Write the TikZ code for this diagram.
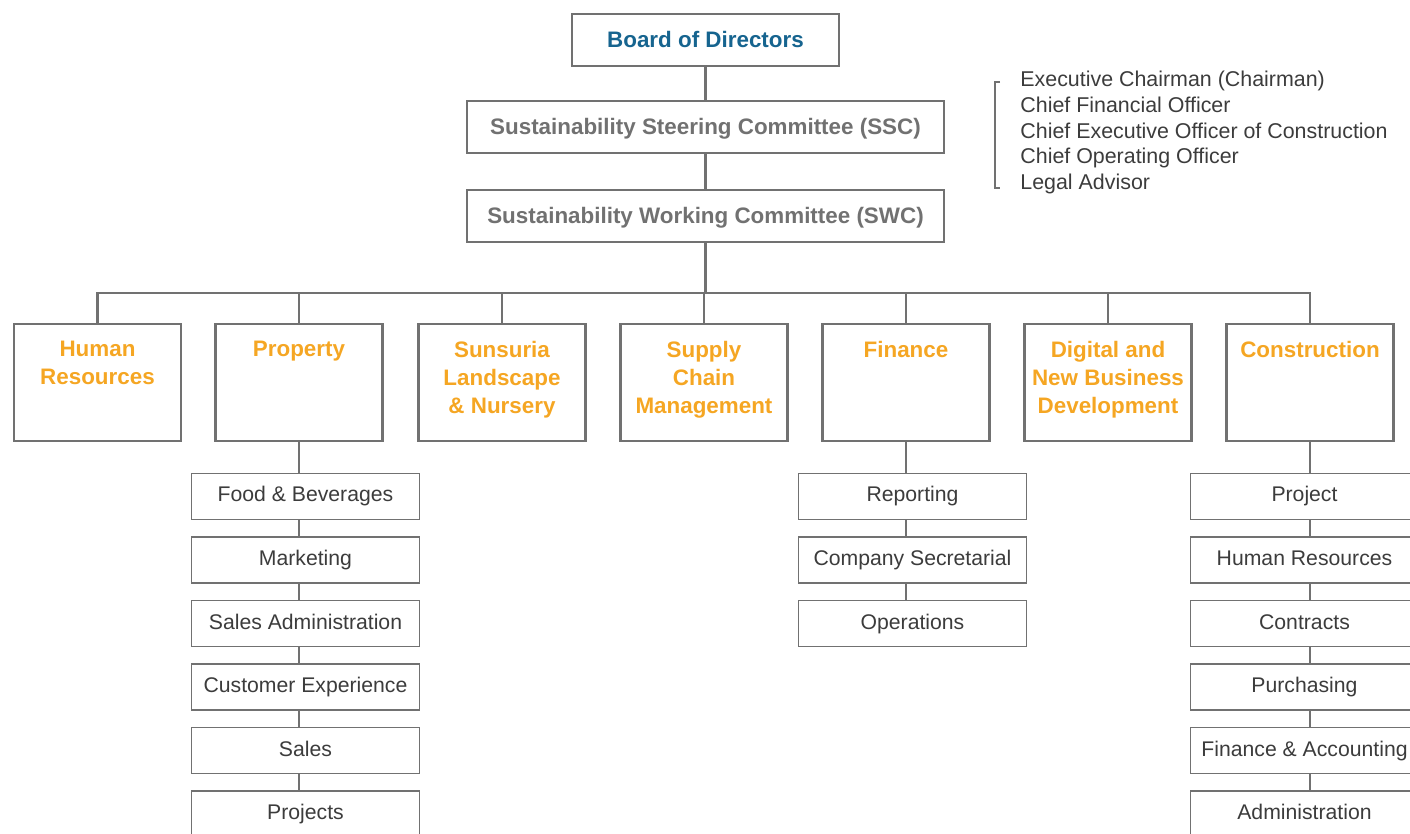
\documentclass[tikz,border=0pt]{standalone}
\usepackage{fontspec}
\setmainfont{Liberation Sans}
\usetikzlibrary{positioning}

\definecolor{linegray}{HTML}{717171}
\definecolor{boardblue}{HTML}{16648F}
\definecolor{headgray}{HTML}{717171}
\definecolor{deptorange}{HTML}{F5A623}
\definecolor{subtext}{HTML}{3C3C3C}

\begin{document}
\begin{tikzpicture}[x=0.5pt,y=-0.5pt,
    topbox/.style={draw=linegray,line width=1.3pt,minimum width=133.4pt,minimum height=25.9pt,
        inner sep=0pt,text height=8pt,text depth=0pt,
        font=\fontsize{11.2}{14}\selectfont\bfseries,text=headgray},
    deptbox/.style={draw=linegray,line width=1.3pt,minimum width=83.4pt,minimum height=58.5pt,inner sep=0pt},
    depttext/.style={anchor=north,yshift=-9pt,inner sep=0pt,align=center,
        font=\fontsize{11.2}{14}\selectfont\bfseries,text=deptorange},
    subbox/.style={draw=linegray,line width=0.7pt,fill=white,minimum width=113.9pt,minimum height=22.9pt,
        inner sep=0pt,text height=7.7pt,text depth=2.2pt,
        font=\fontsize{10.6}{12}\selectfont,text=subtext},
    conn/.style={draw=linegray,line width=1.1pt},
    subconn/.style={draw=linegray,line width=1pt},
    bracket/.style={draw=linegray,line width=0.9pt}]

    \useasboundingbox (0,0) rectangle (1410,834);
    \clip (0,0) rectangle (1410,834);

    % Top of the chart
    \node [topbox,text=boardblue] (bod) at (705.5,40) {Board of Directors};
    \node [topbox,minimum width=238.4pt] (ssc) at (705.5,127) {Sustainability Steering Committee (SSC)};
    \node [topbox,minimum width=238.4pt] (swc) at (705.5,216) {Sustainability Working Committee (SWC)};
    \draw [conn] (bod) -- (ssc);
    \draw [conn] (ssc) -- (swc);

    % SSC members
    \node [anchor=north west,inner sep=0pt,align=left,text=subtext,
        font=\fontsize{10.7}{12.8}\selectfont] (ssclist) at (1020,71)
        {Executive Chairman (Chairman)\\Chief Financial Officer\\Chief Executive Officer of Construction\\Chief Operating Officer\\Legal Advisor};
    \draw [bracket] ([xshift=-10pt,yshift=-5.5pt]ssclist.north west)
        -| ([xshift=-12.5pt,yshift=3.2pt]ssclist.south west) -- ++(2.5pt,0);

    % Departments
    \coordinate (bus) at (705.5,293);
    \draw [conn] (swc) -- (bus);
    \foreach \nm/\x/\txt in {hr/97.5/{Human\\Resources},
                            prop/299/{Property},
                            sun/502/{Sunsuria\\Landscape\\\& Nursery},
                            scm/704/{Supply\\Chain\\Management},
                            fin/906/{Finance},
                            dig/1108/{Digital and\\New Business\\Development},
                            con/1310/{Construction}} {
        \node [deptbox] (\nm) at (\x,382.5) {};
        \node [depttext] (\nm-t) at (\nm.north) {\txt};
        \draw [conn] (\nm.north) |- (bus);
    }

    % Property units
    \foreach \txt [count=\i] in {Food \& Beverages,Marketing,Sales Administration,
                                 Customer Experience,Sales,Projects}
        \node [subbox] (pf\i) at (305.5,{433+63.5*\i}) {\txt};
    \draw [subconn] (prop.south) -- (prop.south |- pf1.north);
    \foreach \i/\j in {1/2,2/3,3/4,4/5,5/6}
        \draw [subconn] (prop.south |- pf\i.south) -- (prop.south |- pf\j.north);

    % Finance units
    \foreach \txt [count=\i] in {Reporting,Company Secretarial,Operations}
        \node [subbox] (fn\i) at (912.5,{433+63.5*\i}) {\txt};
    \draw [subconn] (fin.south) -- (fin.south |- fn1.north);
    \foreach \i/\j in {1/2,2/3}
        \draw [subconn] (fin.south |- fn\i.south) -- (fin.south |- fn\j.north);

    % Construction units
    \foreach \txt [count=\i] in {Project,Human Resources,Contracts,Purchasing,
                                 Finance \& Accounting,Administration}
        \node [subbox] (cn\i) at (1304.5,{433+63.5*\i}) {\txt};
    \draw [subconn] (con.south) -- (con.south |- cn1.north);
    \foreach \i/\j in {1/2,2/3,3/4,4/5,5/6}
        \draw [subconn] (con.south |- cn\i.south) -- (con.south |- cn\j.north);

\end{tikzpicture}
\end{document}
